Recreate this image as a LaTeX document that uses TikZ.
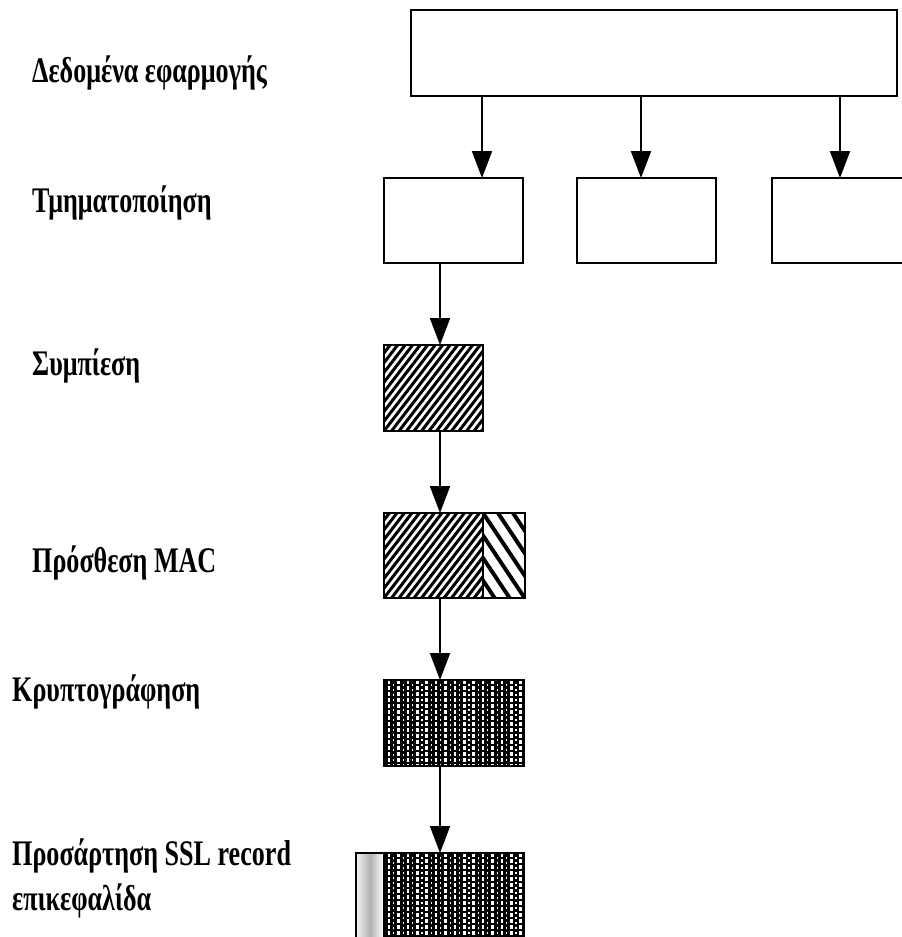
\documentclass[tikz,border=0pt]{standalone}
\usepackage{fontspec}
\setmainfont{Liberation Serif}
\newfontfamily\steplabelfont[FakeStretch=0.725]{Liberation Serif}
\usetikzlibrary{arrows.meta}

\tikzset{
  box/.style={draw=black, line width=2pt, anchor=north west, inner sep=0pt, outer sep=0pt, fill=white},
  arr/.style={line width=2pt, -{Triangle[width=20pt,length=27pt]}},
  lbl/.style={anchor=base west, inner sep=0pt, font=\steplabelfont\fontsize{36}{40}\selectfont\bfseries},
  % dense diagonal hatching rising to the right
  finehatch/.style={path picture={
    \foreach \i in {-14,...,16}
      \draw[black, line width=3pt]
        ([xshift=\i*7.5pt]path picture bounding box.south west) -- ++(70,-91);
  }},
  % wide diagonal hatching falling to the right
  widehatch/.style={path picture={
    \foreach \i in {-6,...,4}
      \draw[black, line width=4pt]
        ([xshift=\i*15pt]path picture bounding box.north west) -- ++(60,90);
  }},
  % black field with columns of white dots
  dotfield/.style={path picture={
    \fill[black] (path picture bounding box.north west) rectangle (path picture bounding box.south east);
    \foreach \k in {0,...,14}
      \draw[white, line width=2.6pt, dash pattern=on 3.5pt off 2.5pt]
        ([xshift={(5+\k*9.4)*1pt}]path picture bounding box.north west) --
        ([xshift={(5+\k*9.4)*1pt}]path picture bounding box.south west);
    \foreach \k in {0,...,14}
      \draw[white, line width=1.2pt, dash pattern=on 2pt off 3pt, dash phase=1pt]
        ([xshift={(9.7+\k*9.4)*1pt}]path picture bounding box.north west) --
        ([xshift={(9.7+\k*9.4)*1pt}]path picture bounding box.south west);
  }},
}

\begin{document}
\begin{tikzpicture}[x=1pt, y=-1pt]
  \clip (0,0) rectangle (902,937);
  \fill[white] (0,0) rectangle (902,937);

  % step labels
  \node[lbl] (l1) at (32,82)  {Δεδομένα εφαρμογής};
  \node[lbl] (l2) at (32,212) {Τμηματοποίηση};
  \node[lbl] (l3) at (32,375) {Συμπίεση};
  \node[lbl] (l4) at (32,572) {Πρόσθεση MAC};
  \node[lbl] (l5) at (12,701) {Κρυπτογράφηση};
  \node[lbl] (l6) at (12,865) {Προσάρτηση SSL record};
  \node[lbl] (l7) at (12,910) {επικεφαλίδα};

  % application data and its fragments
  \node[box, minimum width=486pt, minimum height=86pt] (data) at (411,10) {};
  \node[box, minimum width=139pt, minimum height=85pt] (f1) at (384,178) {};
  \node[box, minimum width=139pt, minimum height=85pt] (f2) at (577,178) {};
  \node[box, minimum width=139pt, minimum height=85pt] (f3) at (772,178) {};

  % processing of the first fragment
  \node[box, finehatch, minimum width=99pt, minimum height=86pt] (comp) at (384,345) {};
  \node[box, finehatch, minimum width=99pt, minimum height=85pt] (maca) at (384,513) {};
  \node[box, widehatch, minimum width=42pt, minimum height=85pt] (macb) at (483,513) {};
  \node[box, dotfield, minimum width=140pt, minimum height=86pt] (enc) at (384,680) {};
  \node[box, shading=axis, left color=gray!10, right color=white, middle color=gray!60,
        minimum width=28pt, minimum height=100pt] (hdr) at (356,853) {};
  \node[box, dotfield, minimum width=140pt, minimum height=100pt] (body) at (384,853) {};

  % arrow columns
  \coordinate (x1) at (482,0);
  \coordinate (x2) at (641,0);
  \coordinate (x3) at (840,0);
  \coordinate (xc) at (440,0);

  \draw[arr] (data.south -| x1) -- (f1.north -| x1);
  \draw[arr] (data.south -| x2) -- (f2.north -| x2);
  \draw[arr] (data.south -| x3) -- (f3.north -| x3);
  \draw[arr] (f1.south -| xc) -- (comp.north -| xc);
  \draw[arr] (comp.south -| xc) -- (maca.north -| xc);
  \draw[arr] (maca.south -| xc) -- (enc.north -| xc);
  \draw[arr] (enc.south -| xc) -- (body.north -| xc);
\end{tikzpicture}
\end{document}
